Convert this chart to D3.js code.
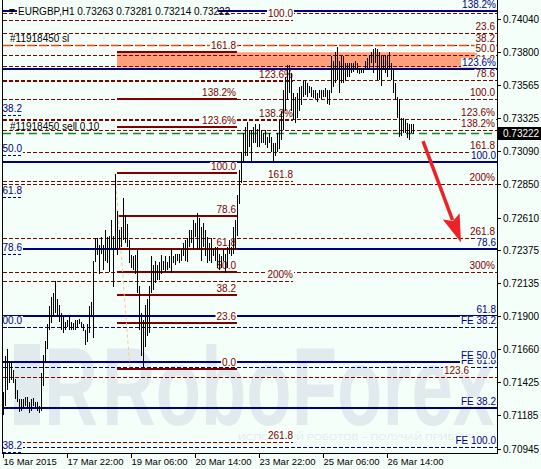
<!DOCTYPE html>
<html>
<head>
<meta charset="utf-8">
<script src="https://cdn.jsdelivr.net/npm/d3@7"></script>
<style>
  html, body { margin: 0; padding: 0; background: #f5fffa; }
  svg { display: block; }
</style>
</head>
<body>
<script>
// EURGBP H1 bars (high / low)
const highs = [
  0.7135, 0.7161, 0.7166, 0.7158, 0.7156, 0.7151, 0.7145, 0.7137, 0.7130, 0.7130,
  0.7130, 0.7132, 0.7132, 0.7128, 0.7130, 0.7131, 0.7128, 0.7128, 0.7125, 0.7149,
  0.7162, 0.7172, 0.7184, 0.7197, 0.7204, 0.7207, 0.7215, 0.7202, 0.7198, 0.7192,
  0.7189, 0.7186, 0.7187, 0.7189, 0.7186, 0.7185, 0.7187, 0.7187, 0.7188, 0.7186,
  0.7184, 0.7180, 0.7184, 0.7197, 0.7200, 0.7230, 0.7246, 0.7246, 0.7241, 0.7247,
  0.7241, 0.7252, 0.7247, 0.7248, 0.7259, 0.7248, 0.7292, 0.7266, 0.7252, 0.7254,
  0.7275, 0.7263, 0.7256, 0.7245, 0.7234, 0.7233, 0.7234, 0.7238, 0.7212, 0.7192,
  0.7187, 0.7198, 0.7202, 0.7212, 0.7233, 0.7227, 0.7230, 0.7227, 0.7229, 0.7234,
  0.7230, 0.7233, 0.7229, 0.7233, 0.7238, 0.7233, 0.7235, 0.7235, 0.7235, 0.7238,
  0.7243, 0.7245, 0.7246, 0.7252, 0.7252, 0.7259, 0.7257, 0.7264, 0.7261, 0.7254,
  0.7257, 0.7252, 0.7247, 0.7243, 0.7246, 0.7238, 0.7240, 0.7240, 0.7235, 0.7233,
  0.7238, 0.7235, 0.7240, 0.7245, 0.7240, 0.7254, 0.7259, 0.7277, 0.7295, 0.7308,
  0.7322, 0.7326, 0.7330, 0.7324, 0.7324, 0.7326, 0.7328, 0.7325, 0.7328, 0.7324,
  0.7322, 0.7324, 0.7319, 0.7322, 0.7319, 0.7315, 0.7315, 0.7322, 0.7331, 0.7338,
  0.7353, 0.7362, 0.7371, 0.7371, 0.7365, 0.7351, 0.7348, 0.7351, 0.7355, 0.7356,
  0.7359, 0.7359, 0.7358, 0.7356, 0.7355, 0.7353, 0.7353, 0.7351, 0.7353, 0.7353,
  0.7353, 0.7354, 0.7353, 0.7353, 0.7377, 0.7374, 0.7380, 0.7384, 0.7374, 0.7377,
  0.7377, 0.7372, 0.7372, 0.7372, 0.7372, 0.7372, 0.7374, 0.7372, 0.7369, 0.7369,
  0.7369, 0.7374, 0.7376, 0.7378, 0.7380, 0.7382, 0.7383, 0.7382, 0.7380, 0.7377,
  0.7377, 0.7378, 0.7377, 0.7380, 0.7372, 0.7367, 0.7358, 0.7348, 0.7346, 0.7333,
  0.7333, 0.7331, 0.7329, 0.7328, 0.7328, 0.7328
];
const lows = [
  0.7119, 0.7125, 0.7137, 0.7142, 0.7144, 0.7142, 0.7130, 0.7128, 0.7121, 0.7122,
  0.7124, 0.7125, 0.7124, 0.7120, 0.7122, 0.7125, 0.7124, 0.7122, 0.7120, 0.7122,
  0.7140, 0.7158, 0.7166, 0.7180, 0.7185, 0.7189, 0.7192, 0.7189, 0.7186, 0.7180,
  0.7178, 0.7180, 0.7182, 0.7180, 0.7180, 0.7180, 0.7180, 0.7182, 0.7184, 0.7182,
  0.7179, 0.7169, 0.7171, 0.7178, 0.7189, 0.7174, 0.7229, 0.7234, 0.7220, 0.7235,
  0.7223, 0.7230, 0.7228, 0.7222, 0.7238, 0.7211, 0.7238, 0.7234, 0.7238, 0.7240,
  0.7245, 0.7243, 0.7240, 0.7228, 0.7225, 0.7223, 0.7220, 0.7207, 0.7180, 0.7161,
  0.7153, 0.7168, 0.7176, 0.7178, 0.7207, 0.7209, 0.7214, 0.7216, 0.7216, 0.7220,
  0.7223, 0.7222, 0.7223, 0.7225, 0.7221, 0.7228, 0.7227, 0.7230, 0.7228, 0.7230,
  0.7233, 0.7230, 0.7229, 0.7240, 0.7243, 0.7238, 0.7247, 0.7238, 0.7238, 0.7230,
  0.7240, 0.7233, 0.7228, 0.7230, 0.7228, 0.7233, 0.7230, 0.7225, 0.7223, 0.7225,
  0.7230, 0.7221, 0.7225, 0.7235, 0.7233, 0.7235, 0.7238, 0.7248, 0.7271, 0.7286,
  0.7300, 0.7305, 0.7305, 0.7312, 0.7301, 0.7315, 0.7315, 0.7312, 0.7312, 0.7315,
  0.7315, 0.7313, 0.7311, 0.7315, 0.7308, 0.7302, 0.7305, 0.7308, 0.7310, 0.7317,
  0.7324, 0.7338, 0.7346, 0.7351, 0.7338, 0.7331, 0.7329, 0.7333, 0.7338, 0.7342,
  0.7348, 0.7349, 0.7348, 0.7351, 0.7348, 0.7347, 0.7346, 0.7344, 0.7347, 0.7346,
  0.7348, 0.7348, 0.7343, 0.7342, 0.7351, 0.7355, 0.7358, 0.7360, 0.7351, 0.7358,
  0.7358, 0.7360, 0.7362, 0.7362, 0.7365, 0.7366, 0.7367, 0.7365, 0.7364, 0.7365,
  0.7365, 0.7367, 0.7369, 0.7369, 0.7372, 0.7365, 0.7372, 0.7360, 0.7360, 0.7356,
  0.7367, 0.7365, 0.7362, 0.7369, 0.7360, 0.7351, 0.7346, 0.7333, 0.7319, 0.7320,
  0.7322, 0.7322, 0.7318, 0.7317, 0.7322, 0.7321
];
const lastQuote = ["0.73263", "0.73281", "0.73214", "0.73222"];
const bidPrice = 0.73222;

// axes
const priceTicks = [0.74040, 0.73800, 0.73565, 0.73325, 0.73090, 0.72850, 0.72610,
  0.72375, 0.72135, 0.71900, 0.71660, 0.71425, 0.71185, 0.70945];
const timeTickBars = [0, 32, 64, 96, 128, 160, 192];
const timeTickLabels = ["16 Mar 2015", "17 Mar 22:00", "19 Mar 06:00", "20 Mar 14:00",
  "23 Mar 22:00", "25 Mar 06:00", "26 Mar 14:00"];

// fibonacci objects
const upperFibPrices = [0.7408, 0.7394, 0.7385, 0.7378, 0.7370, 0.7360, 0.7346, 0.7332, 0.7324, 0.7308, 0.7285, 0.7246, 0.7222];
const upperFibLabels = ["", "23.6", "38.2", "50.0", "61.8", "78.6", "100.0", "123.6%", "138.2%", "161.8", "200%", "261.8", "300%"];
const lowerFibPrices = [0.7146];
const lowerFibLabels = ["123.6"];
const leftFibPrices = [0.7403, 0.7359, 0.7331, 0.7287, 0.7215, 0.7099];
const leftFibLabels = ["100.0", "123.6%", "138.2%", "161.8", "200%", "261.8"];
const retracePrices = [0.7380, 0.7346, 0.7326, 0.7293, 0.7262, 0.7238, 0.7222, 0.7205, 0.7185, 0.7152];
const retraceLabels = ["161.8", "138.2%", "123.6%", "100.0", "78.6", "61.8", "50.0", "38.2", "23.6", "0.0"];
const navySolidPrices = [0.7410, 0.7368, 0.7301, 0.7238, 0.7190, 0.7157, 0.7124];
const navySolidLabels = ["138.2%", "123.6%", "100.0", "78.6", "61.8", "FE 50.0", "FE 38.2"];
const navyDashPrices = [0.7182, 0.7153, 0.7096];
const navyDashLabels = ["FE 38.2", "FE 61.8", "FE 100.0"];
const leftNavyPrices = [0.7335, 0.7306, 0.7276, 0.7235, 0.7182, 0.7092];
const leftNavyLabels = ["38.2", "50.0", "61.8", "78.6", "100.0", "38.2"];

// retracement anchors, zone, orders, forecast arrow: [bar, price]
const retraceBars = [57, 117];
const fibTrend = [[56, 0.7293], [63.5, 0.7152]];
const zoneBars = [57, 237];
const zonePrices = [0.7380, 0.7369];
const slPrice = 0.7385;
const sellPrice = 0.7322;
const arrowPoints = [[210, 0.7316], [229, 0.7243]];

const width = 541, height = 469;
const plotLeft = 3, plotRight = 497, plotTop = 0, plotBottom = 454;
const bg = "#f5fffa";
const maroon = "#800000", navy = "#000080";
const font = "'Liberation Sans', Arial, sans-serif";

const x = d3.scaleLinear().domain([0, 247]).range([plotLeft, plotRight]);
const y = d3.scaleLinear().domain([0.70907, 0.74162]).range([plotBottom, 2]);

const svg = d3.select("body").append("svg")
  .attr("width", width)
  .attr("height", height)
  .style("font-family", font)
  .style("font-size", "10px");

svg.append("rect").attr("width", width).attr("height", height).attr("fill", bg);

svg.append("defs").append("clipPath").attr("id", "plot")
  .append("rect").attr("x", plotLeft).attr("y", plotTop)
  .attr("width", plotRight - plotLeft).attr("height", plotBottom - plotTop);

const plot = svg.append("g").attr("clip-path", "url(#plot)");

// watermark
const wm = plot.append("g").attr("fill", "#e1ebed").attr("font-weight", "bold");
wm.append("rect").attr("x", 14).attr("y", 344).attr("width", 26).attr("height", 81);
wm.append("text").attr("x", 44).attr("y", 425)
  .attr("font-size", "112px")
  .attr("textLength", 54).attr("lengthAdjust", "spacingAndGlyphs").text("R");
wm.append("text").attr("x", 102).attr("y", 425)
  .attr("font-size", "112px")
  .attr("textLength", 392).attr("lengthAdjust", "spacingAndGlyphs").text("RoboForex");
wm.append("text").attr("x", 238).attr("y", 440)
  .attr("font-size", "9px").attr("font-weight", "normal")
  .attr("textLength", 240).attr("lengthAdjust", "spacingAndGlyphs")
  .text("ИСПОЛЬЗУЙ РОБОТОВ – ПОЛУЧАЙ ПРИБЫЛЬ");

// zone rectangle
plot.append("rect")
  .attr("x", x(zoneBars[0])).attr("width", x(zoneBars[1]) - x(zoneBars[0]))
  .attr("y", y(zonePrices[0])).attr("height", y(zonePrices[1]) - y(zonePrices[0]))
  .attr("fill", "#ffa07a");

const lines = plot.append("g");
const labels = [];

function hLine(price, x1, x2, color, w, dash) {
  const yy = Math.round(y(price)) + (w % 2 ? 0.5 : 0);
  lines.append("line")
    .attr("x1", x1).attr("x2", x2).attr("y1", yy).attr("y2", yy)
    .attr("stroke", color).attr("stroke-width", w)
    .attr("stroke-dasharray", dash || null);
}

upperFibPrices.forEach((p, i) => {
  hLine(p, plotLeft, plotRight, maroon, 1, "4,2");
  if (upperFibLabels[i]) labels.push([upperFibLabels[i], plotRight - 2, p, maroon, "end"]);
});
lowerFibPrices.forEach((p, i) => {
  hLine(p, plotLeft, plotRight, maroon, 1, "4,2");
  labels.push([lowerFibLabels[i], x(233), p, maroon, "end"]);
});
leftFibPrices.forEach((p, i) => {
  hLine(p, plotLeft, x(145), maroon, 1, "4,2");
  labels.push([leftFibLabels[i], x(145), p, maroon, "end"]);
});
navyDashPrices.forEach((p, i) => {
  hLine(p, plotLeft, plotRight, navy, 1, "4,2");
  labels.push([navyDashLabels[i], plotRight - 1, p, navy, "end"]);
});
navySolidPrices.forEach((p, i) => {
  hLine(p, plotLeft, plotRight, navy, 2);
  labels.push([navySolidLabels[i], plotRight - 1, p, navy, "end"]);
});
leftNavyPrices.forEach((p, i) => {
  hLine(p, plotLeft, 22, navy, 1, "3,2");
  labels.push([leftNavyLabels[i], 22, p, navy, "end"]);
});
retracePrices.forEach((p, i) => {
  hLine(p, x(retraceBars[0]), x(retraceBars[1]), maroon, 2);
  labels.push([retraceLabels[i], x(retraceBars[1]) - 1, p, maroon, "end"]);
});

// fibonacci trend line
lines.append("line")
  .attr("x1", x(fibTrend[0][0])).attr("y1", y(fibTrend[0][1]))
  .attr("x2", x(fibTrend[1][0])).attr("y2", y(fibTrend[1][1]))
  .attr("stroke", "#f7c58f").attr("stroke-dasharray", "3,3");

// order lines
hLine(slPrice, plotLeft, plotRight, "#ff4500", 1.5, "8,4");
hLine(sellPrice, plotLeft, plotRight, "#0a8a2a", 1.5, "8,5");

// level labels with background boxes
const lab = plot.append("g");
labels.forEach(([txt, lx, p, color, anchor]) => {
  const ly = Math.round(y(p));
  const t = lab.append("text")
    .attr("x", lx).attr("y", ly - 3)
    .attr("text-anchor", anchor).attr("fill", color).text(txt);
  const w = t.node().getComputedTextLength();
  lab.insert("rect", () => t.node())
    .attr("x", (anchor === "end" ? lx - w : lx) - 1).attr("y", ly - 11)
    .attr("width", w + 2).attr("height", 9).attr("fill", bg);
});

// order labels
plot.append("text").attr("x", 10).attr("y", Math.round(y(slPrice)) - 3)
  .attr("fill", "#000").text("#11918450 sl");
plot.append("text").attr("x", 10).attr("y", Math.round(y(sellPrice)) - 3)
  .attr("fill", "#000").text("#11918450 sell 0.10");

// bars
plot.append("g").selectAll("line")
  .data(highs.map((h, i) => ({ i, h, l: lows[i] })))
  .join("line")
  .attr("x1", d => Math.round(x(d.i)) + 0.5)
  .attr("x2", d => Math.round(x(d.i)) + 0.5)
  .attr("y1", d => Math.round(y(d.h)))
  .attr("y2", d => Math.max(Math.round(y(d.l)), Math.round(y(d.h)) + 2))
  .attr("stroke", "#000").attr("stroke-width", 1);

// title
svg.append("rect").attr("x", 17).attr("y", 5).attr("width", 201).attr("height", 12).attr("fill", bg);
svg.append("path").attr("d", "M9,9 L15,9 L12,13 Z").attr("fill", "#000");
svg.append("text").attr("x", 18).attr("y", 15).attr("fill", "#000")
  .text("EURGBP,H1  " + lastQuote.join(" "));

// forecast arrow
const a0 = [x(arrowPoints[0][0]), y(arrowPoints[0][1])];
const a1 = [x(arrowPoints[1][0]), y(arrowPoints[1][1])];
const len = Math.hypot(a1[0] - a0[0], a1[1] - a0[1]);
const ux = (a1[0] - a0[0]) / len, uy = (a1[1] - a0[1]) / len;
const bx = a1[0] - ux * 28, by = a1[1] - uy * 28;
svg.append("line")
  .attr("x1", a0[0]).attr("y1", a0[1]).attr("x2", bx + ux * 4).attr("y2", by + uy * 4)
  .attr("stroke", "#ec2227").attr("stroke-width", 3.5);
svg.append("path")
  .attr("d", `M${a1[0]},${a1[1]} L${bx - uy * 9},${by + ux * 9} L${bx + ux * 5},${by + uy * 5} L${bx + uy * 9},${by - ux * 9} Z`)
  .attr("fill", "#ec2227");

// axes frame
svg.append("line").attr("x1", 2.5).attr("x2", 2.5).attr("y1", 0).attr("y2", plotBottom)
  .attr("stroke", "#000");
svg.append("line").attr("x1", plotRight + 0.5).attr("x2", plotRight + 0.5).attr("y1", 0).attr("y2", plotBottom)
  .attr("stroke", "#000");
svg.append("line").attr("x1", 2).attr("x2", plotRight + 1).attr("y1", plotBottom - 0.5).attr("y2", plotBottom - 0.5)
  .attr("stroke", "#000");

// price axis
const yAxis = svg.append("g");
priceTicks.forEach(p => {
  const py = Math.round(y(p)) + 0.5;
  yAxis.append("line").attr("x1", plotRight).attr("x2", plotRight + 4)
    .attr("y1", py).attr("y2", py).attr("stroke", "#000");
  yAxis.append("text").attr("x", plotRight + 6).attr("y", py + 3.5)
    .attr("fill", "#000").text(d3.format(".5f")(p));
});
const by0 = Math.round(y(bidPrice));
yAxis.append("rect").attr("x", plotRight + 1).attr("y", by0 - 6).attr("width", 43).attr("height", 13).attr("fill", "#000");
yAxis.append("text").attr("x", plotRight + 6).attr("y", by0 + 4).attr("fill", "#fff").text(d3.format(".5f")(bidPrice));

// time axis
const xAxis = svg.append("g");
timeTickBars.forEach((b, i) => {
  const px = Math.round(x(b)) + 0.5;
  xAxis.append("line").attr("x1", px).attr("x2", px).attr("y1", plotBottom).attr("y2", plotBottom + 4)
    .attr("stroke", "#000");
  xAxis.append("text").attr("x", px).attr("y", 465).attr("fill", "#000")
    .attr("font-size", "9.5px").text(timeTickLabels[i]);
});
</script>
</body>
</html>
